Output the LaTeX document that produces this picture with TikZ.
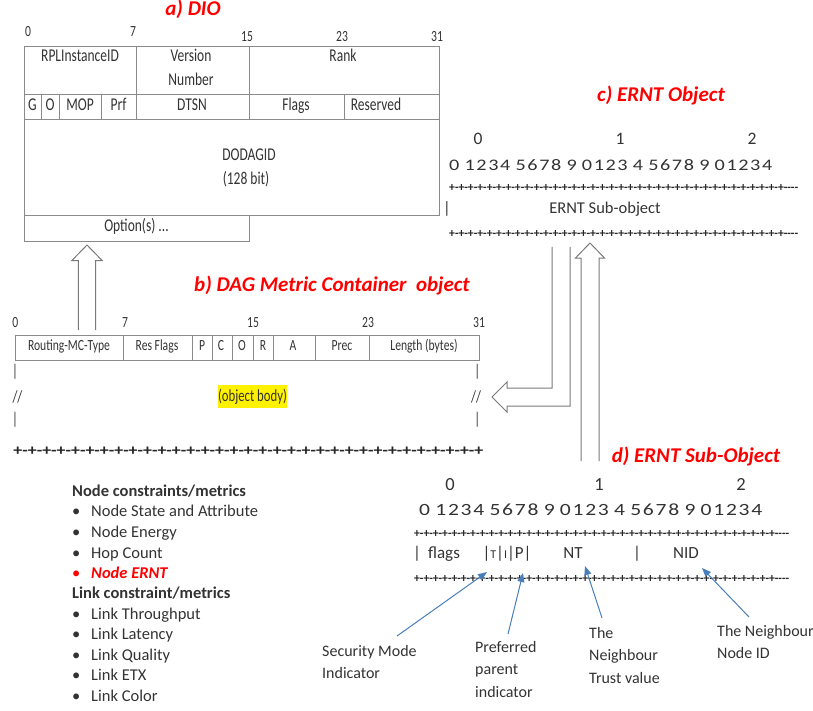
\documentclass[tikz,border=0pt]{standalone}
\usepackage{fontspec}
\usepackage{graphicx}
\setmainfont{Carlito}
\newfontfamily\narrowfont[FakeStretch=0.75]{Carlito}
\usetikzlibrary{arrows.meta}
\definecolor{txt}{HTML}{333333}
\definecolor{ln}{HTML}{8A8A8A}
\definecolor{arw}{HTML}{7A7A7A}
\definecolor{bl}{HTML}{4A7EBB}
\newcommand\setfs[1]{\fontsize{#1}{#1}\selectfont}
\newcommand\digrow{\addfontfeatures{LetterSpace=8}\spaceskip=4.5pt 0 1234 5678 9 0123 4 5678 9 01234}
\begin{document}
\begin{tikzpicture}[x=1pt,y=-1pt,
  every node/.style={inner sep=0pt, text=txt},
  lbl/.style={text height=0.7em, text depth=0.2em},
  ttl/.style={lbl, text=red, font=\setfs{21}\bfseries\itshape},
  dio/.style={lbl, font=\narrowfont\setfs{18}},
  bitn/.style={lbl, font=\narrowfont\setfs{15.5}},
  mct/.style={lbl, font=\narrowfont\setfs{15.5}},
  ern/.style={lbl, font=\setfs{16.5}},
  sub/.style={lbl, font=\setfs{17}},
  lst/.style={lbl, anchor=west, font=\setfs{16.5}},
  plusline/.style={anchor=west, text=black!85},
  box/.style={draw=ln, line width=0.9pt},
  hollow/.style={draw=arw, line width=1pt, line join=miter},
  note/.style={anchor=north west, align=left, font=\fontsize{16}{22.5}\selectfont},
  ptr/.style={draw=bl, line width=1pt, -{Triangle[length=9pt,width=7pt]}},
]
\useasboundingbox (0,0) rectangle (813,711);

% ---------------- a) DIO ----------------
\node[ttl] (ta) at (193,13) {a) DIO};
\node[bitn] (a0) at (28,34) {0};
\node[bitn] (a7) at (133,34) {7};
\node[bitn] (a15) at (247,39) {15};
\node[bitn] (a23) at (342,39) {23};
\node[bitn] (a31) at (437,39) {31};
\draw[box] (24,46) rectangle (439,215);
\draw[box] (24,94) -- (439,94) (24,119) -- (439,119);
\draw[box] (136,46) -- (136,119) (249,46) -- (249,119);
\draw[box] (41,94) -- (41,119) (59,94) -- (59,119) (101,94) -- (101,119) (344,94) -- (344,119);
\draw[box] (24,215) rectangle (249,241);
\node[dio] (rpl) at (80,59) {RPLInstanceID};
\node[dio] (ver) at (191,59) {Version};
\node[dio] (num) at (191,83) {Number};
\node[dio] (rank) at (343,59) {Rank};
\node[dio] (g) at (32.5,108) {G};
\node[dio] (o) at (50,108) {O};
\node[dio] (mop) at (80,108) {MOP};
\node[dio] (prf) at (118.5,108) {Prf};
\node[dio] (dtsn) at (192,108) {DTSN};
\node[dio] (flg) at (296,108) {Flags};
\node[dio] (res) at (376,108) {Reserved};
\node[dio] (dodag) at (249,158) {DODAGID};
\node[dio] (bits) at (246,182) {(128 bit)};
\node[dio] (opt) at (136.5,229) {Option(s) ...};

% hollow arrow b -> DIO
\draw[hollow] (78.3,330) -- (78.3,260.7) -- (71.7,260.7) -- (87,245) -- (102.3,260.7) -- (95.7,260.7) -- (95.7,330);

% ---------------- b) DAG Metric Container ----------------
\node[ttl] (tb) at (332,289) {b) DAG Metric Container\ \ object};
\node[bitn] (b0) at (15.3,325) {0};
\node[bitn] (b7) at (125,325) {7};
\node[bitn] (b15) at (253,325) {15};
\node[bitn] (b23) at (368,325) {23};
\node[bitn] (b31) at (479,325) {31};
\draw[box] (15.7,335) rectangle (479,360.7);
\foreach \xx in {123,192,212,232,253,273,315,369} \draw[box] (\xx,335) -- (\xx,360.7);
\node[mct] (rmt) at (69,348) {Routing-MC-Type};
\node[mct] (rfl) at (157,348) {Res Flags};
\node[mct] (fp) at (202,348) {P};
\node[mct] (fc) at (221,348) {C};
\node[mct] (fo) at (242,348) {O};
\node[mct] (fr) at (263,348) {R};
\node[mct] (fa) at (293,348) {A};
\node[mct] (prec) at (342,348) {Prec};
\node[mct] (len) at (424,348) {Length (bytes)};
\node[lbl, font=\narrowfont\setfs{17}] (bl1) at (15,374) {|};
\node[lbl, font=\narrowfont\setfs{17}] (bl2) at (17.5,400) {//};
\node[lbl, font=\narrowfont\setfs{17}] (bl3) at (15,422) {|};
\node[lbl, font=\narrowfont\setfs{17}] (br1) at (477.3,374) {|};
\node[lbl, font=\narrowfont\setfs{17}] (br2) at (476,400) {//};
\node[lbl, font=\narrowfont\setfs{17}] (br3) at (477.3,422) {|};
\node[font=\narrowfont\setfs{17}, fill=yellow, minimum height=23pt, inner xsep=0.5pt] (body) at (252.5,396.5) {(object body)};
\node[plusline] (bplus) at (13.3,451) {\resizebox{470pt}{8.5pt}{\setfs{12}\bfseries +-+-+-+-+-+-+-+-+-+-+-+-+-+-+-+-+-+-+-+-+-+-+-+-+-+-+-+-+-+-+-+-+}};

% ---------------- c) ERNT Object ----------------
\node[ttl] (tc) at (661,99) {c) ERNT Object};
\node[lbl, font=\setfs{17.5}] (c0) at (478,142) {0};
\node[lbl, font=\setfs{17.5}] (c1) at (620,142) {1};
\node[lbl, font=\setfs{17.5}] (c2) at (752,142) {2};
\node[anchor=west] (cdig) at (449,165) {\resizebox{323pt}{11pt}{\setfs{17.5}\digrow}};
\node[plusline] (cplus1) at (449,188) {\resizebox{349pt}{7pt}{\setfs{12}\bfseries +-+-+-+-+-+-+-+-+-+-+-+-+-+-+-+-+-+-+-+-+-+-+-+-+-+-+-+-+-+-+-+-+-+-+-+-{}-{}-{}-}};
\node[ern] (cbar) at (447,211) {|};
\node[ern] (csub) at (605,211) {ERNT Sub-object};
\node[plusline] (cplus2) at (449,234) {\resizebox{349pt}{7pt}{\setfs{12}\bfseries +-+-+-+-+-+-+-+-+-+-+-+-+-+-+-+-+-+-+-+-+-+-+-+-+-+-+-+-+-+-+-+-+-+-+-+-{}-{}-{}-}};

% bent hollow arrow c -> b
\draw[hollow] (552,247) -- (552,388) -- (507,388) -- (507,382) -- (492,397) -- (507,412) -- (507,406) -- (570,406) -- (570,247);
% hollow arrow d -> c
\draw[hollow] (581,461) -- (581,258) -- (575.5,258) -- (590,243) -- (604.5,258) -- (599,258) -- (599,461);

% ---------------- d) ERNT Sub-Object ----------------
\node[ttl] (td) at (696,460) {d) ERNT Sub-Object};
\node[lbl, font=\setfs{18.5}] (d0) at (450,488) {0};
\node[lbl, font=\setfs{18.5}] (d1) at (599,488) {1};
\node[lbl, font=\setfs{18.5}] (d2) at (741,488) {2};
\node[anchor=west] (ddig) at (419,510) {\resizebox{343pt}{11.7pt}{\setfs{18.5}\digrow}};
\node[plusline] (dplus1) at (414,534) {\resizebox{375pt}{7pt}{\setfs{12}\bfseries +-+-+-+-+-+-+-+-+-+-+-+-+-+-+-+-+-+-+-+-+-+-+-+-+-+-+-+-+-+-+-+-+-+-+-+-+-+-+-{}-{}-{}-}};
\node[sub] (dbar1) at (417,556) {|};
\node[sub] (dflags) at (444,556) {flags};
\node[sub] (dtip) at (507,556) {|{\setfs{12}T}|{\setfs{12}I}|P|};
\node[sub] (dnt) at (573,556) {NT};
\node[sub] (dbar2) at (637,556) {|};
\node[sub] (dnid) at (686,556) {NID};
\node[plusline] (dplus2) at (414,579) {\resizebox{375pt}{7pt}{\setfs{12}\bfseries +-+-+-+-+-+-+-+-+-+-+-+-+-+-+-+-+-+-+-+-+-+-+-+-+-+-+-+-+-+-+-+-+-+-+-+-+-+-+-{}-{}-{}-}};

% annotations
\node[note] (smi) at (322,645) {Security Mode\\Indicator};
\node[note] (ppi) at (475,641) {Preferred\\parent\\indicator};
\node[note] (ntv) at (589,627) {The\\Neighbour\\Trust value};
\node[note] (nid) at (717,625) {The Neighbour\\Node ID};
\coordinate (smi-s) at (397,636);
\coordinate (ppi-s) at (508,634);
\coordinate (ntv-s) at (602,618);
\coordinate (nid-s) at (749,617);
\coordinate (smi-t) at (487,572);
\coordinate (ppi-t) at (523,573);
\coordinate (ntv-t) at (585,566);
\coordinate (nid-t) at (702,568);
\draw[ptr] (smi-s) -- (smi-t);
\draw[ptr] (ppi-s) -- (ppi-t);
\draw[ptr] (ntv-s) -- (ntv-t);
\draw[ptr] (nid-s) -- (nid-t);

% ---------------- metrics list ----------------
\node[lst, font=\setfs{16.5}\bfseries] (hn) at (72,494) {Node constraints/metrics};
\node[lst] (n1b) at (72,514) {•}; \node[lst] (n1) at (91,514) {Node State and Attribute};
\node[lst] (n2b) at (72,535) {•}; \node[lst] (n2) at (91,535) {Node Energy};
\node[lst] (n3b) at (72,556) {•}; \node[lst] (n3) at (91,556) {Hop Count};
\node[lst, text=red] (n4b) at (72,576) {•}; \node[lst, text=red, font=\setfs{16.5}\bfseries\itshape] (n4) at (91,576) {Node ERNT};
\node[lst, font=\setfs{16.5}\bfseries] (hl) at (72,596) {Link constraint/metrics};
\node[lst] (l1b) at (72,617) {•}; \node[lst] (l1) at (91,617) {Link Throughput};
\node[lst] (l2b) at (72,637) {•}; \node[lst] (l2) at (91,637) {Link Latency};
\node[lst] (l3b) at (72,658) {•}; \node[lst] (l3) at (91,658) {Link Quality};
\node[lst] (l4b) at (72,678) {•}; \node[lst] (l4) at (91,678) {Link ETX};
\node[lst] (l5b) at (72,699) {•}; \node[lst] (l5) at (91,699) {Link Color};
\end{tikzpicture}
\end{document}
